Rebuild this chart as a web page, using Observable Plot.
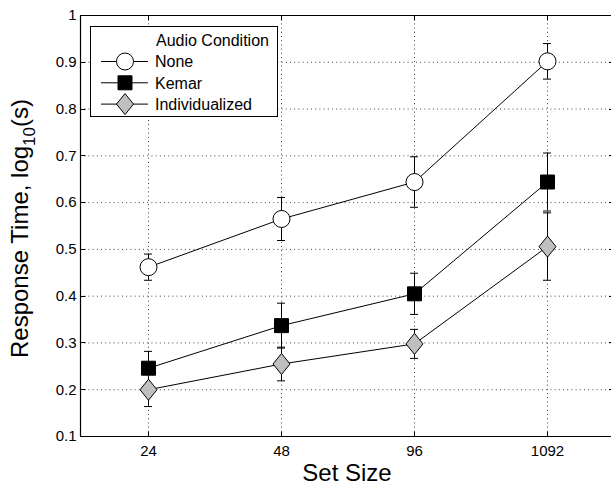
<!DOCTYPE html>
<html><head><meta charset="utf-8">
<script src="https://cdn.jsdelivr.net/npm/d3@7"></script>
<script src="https://cdn.jsdelivr.net/npm/@observablehq/plot@0.6"></script>
<style>
html,body{margin:0;padding:0;background:#fff;overflow:hidden;}
#chart svg{display:block;font-family:"Liberation Sans",Arial,Helvetica,sans-serif;}
</style></head><body><div id="chart"></div>
<script>
// ---- data ----
const setSizes = ["24", "48", "96", "1092"];
const seriesNames = ["None", "Kemar", "Individualized"];
const noneMean = [0.462, 0.565, 0.644, 0.902];
const noneErr = [0.028, 0.046, 0.054, 0.038];
const kemarMean = [0.246, 0.337, 0.405, 0.644];
const kemarErr = [0.036, 0.048, 0.044, 0.062];
const indivMean = [0.200, 0.255, 0.298, 0.506];
const indivErr = [0.036, 0.036, 0.031, 0.072];
const yTicks = [0.1, 0.2, 0.3, 0.4, 0.5, 0.6, 0.7, 0.8, 0.9, 1];
const yTickLabels = ["0.1", "0.2", "0.3", "0.4", "0.5", "0.6", "0.7", "0.8", "0.9", "1"];
const legendTitle = "Audio Condition";
const xLabel = "Set Size";
const yLabelParts = ["Response Time, log", "10", "(s)"];

// ---- styles ----
const circleSym = {draw(ctx) { ctx.moveTo(8.5, 0); ctx.arc(0, 0, 8.5, 0, 2 * Math.PI); }};
const squareSym = {draw(ctx) { ctx.rect(-7, -7, 14, 14); }};
const diamondSym = {draw(ctx) { ctx.moveTo(0, -10.5); ctx.lineTo(8.5, 0); ctx.lineTo(0, 10.5); ctx.lineTo(-8.5, 0); ctx.closePath(); }};
const seriesStyle = {
  "None": {symbol: circleSym, fill: "white"},
  "Kemar": {symbol: squareSym, fill: "black"},
  "Individualized": {symbol: diamondSym, fill: "#bfbfbf"}
};

const seriesData = [
  {name: seriesNames[0], mean: noneMean, err: noneErr},
  {name: seriesNames[1], mean: kemarMean, err: kemarErr},
  {name: seriesNames[2], mean: indivMean, err: indivErr}
];
const rows = seriesData.map(s => s.mean.map((m, i) => ({
  series: s.name, size: setSizes[i], mean: m, lo: m - s.err[i], hi: m + s.err[i]
})));

// axes box (its right side lies just outside the picture) and inward ticks
function axesBox(index, scales, values, dims) {
  const {x, y} = scales;
  const g = d3.create("svg:g").attr("stroke", "black").attr("stroke-width", 1);
  const W = dims.width;
  const L = dims.marginLeft + 0.5, R = x.range()[1];
  const T = Math.round(y(1)) + 0.5, B = Math.round(y(0.1)) + 0.5;
  g.append("line").attr("x1", L).attr("x2", W).attr("y1", T).attr("y2", T).attr("stroke-width", 1.2);
  g.append("line").attr("x1", L).attr("x2", W).attr("y1", B).attr("y2", B).attr("stroke-width", 1.2);
  g.append("line").attr("x1", L).attr("x2", L).attr("y1", T).attr("y2", B).attr("stroke-width", 1.2);
  for (const t of yTicks) {
    const py = Math.round(y(t)) + 0.5;
    g.append("line").attr("x1", L).attr("x2", L + 5).attr("y1", py).attr("y2", py);
    if (R - 5 < W) g.append("line").attr("x1", R - 5).attr("x2", W).attr("y1", py).attr("y2", py);
  }
  for (const s of setSizes) {
    const px = Math.round(x(s)) + 0.5;
    g.append("line").attr("x1", px).attr("x2", px).attr("y1", B - 5).attr("y2", B);
    g.append("line").attr("x1", px).attr("x2", px).attr("y1", T).attr("y2", T + 5);
  }
  return g.node();
}

function axisLabels(index, scales, values, dims) {
  const {x} = scales;
  const g = d3.create("svg:g").attr("fill", "black").attr("font-size", 24).attr("text-anchor", "middle");
  const r = x.range();
  const cx = (r[0] + r[1]) / 2;
  const cy = (dims.marginTop + dims.height - dims.marginBottom) / 2 + 3;
  g.append("text").attr("x", cx).attr("y", dims.height - 4).text(xLabel);
  const t = g.append("text").attr("transform", `translate(28,${cy}) rotate(-90)`);
  t.append("tspan").text(yLabelParts[0]);
  t.append("tspan").attr("dy", 7).attr("font-size", 17).text(yLabelParts[1]);
  t.append("tspan").attr("dy", -7).text(yLabelParts[2]);
  return g.node();
}

function legend(index, scales, values, dims) {
  const L = dims.marginLeft, T = dims.marginTop;
  const g = d3.create("svg:g").attr("font-size", 16).attr("text-anchor", "start").attr("fill", "black");
  g.append("rect").attr("x", L + 10.5).attr("y", T + 11.5).attr("width", 187).attr("height", 90)
    .attr("fill", "white").attr("stroke", "black").attr("stroke-width", 1);
  g.append("text").attr("x", L + 76).attr("y", T + 31).text(legendTitle);
  seriesNames.forEach((n, i) => {
    const cy = T + 46.5 + i * 21.3;
    g.append("line").attr("x1", L + 21).attr("x2", L + 68).attr("y1", cy).attr("y2", cy)
      .attr("stroke", "black").attr("stroke-width", 1);
    g.append("path").attr("d", d3.symbol().type(seriesStyle[n].symbol)())
      .attr("transform", `translate(${L + 45},${cy})`)
      .attr("fill", seriesStyle[n].fill).attr("stroke", "black").attr("stroke-width", 1);
    g.append("text").attr("x", L + 75).attr("y", cy + 5.7).text(n);
  });
  return g.node();
}

const dotted = {stroke: "#444", strokeWidth: 1, strokeDasharray: "1,3.2"};
const marks = [
  Plot.ruleY(yTicks, {y: d => d, ...dotted}),
  Plot.ruleX(setSizes, {x: d => d, ...dotted}),
  axesBox
];
rows.forEach(data => {
  const st = seriesStyle[data[0].series];
  marks.push(
    Plot.line(data, {x: "size", y: "mean", stroke: "black", strokeWidth: 1}),
    Plot.ruleX(data, {x: "size", y1: "lo", y2: "hi", stroke: "black", strokeWidth: 1}),
    Plot.ruleY(data, {y: "lo", x1: "size", x2: "size", insetLeft: -4, insetRight: -4, stroke: "black", strokeWidth: 1}),
    Plot.ruleY(data, {y: "hi", x1: "size", x2: "size", insetLeft: -4, insetRight: -4, stroke: "black", strokeWidth: 1}),
    Plot.dot(data, {x: "size", y: "mean", symbol: st.symbol, r: 8.5, fill: st.fill, stroke: "black", strokeWidth: 1})
  );
});
marks.push(legend, axisLabels);

const chart = Plot.plot({
  width: 611,
  height: 485,
  marginLeft: 80,
  marginRight: 0,
  marginTop: 15,
  marginBottom: 49,
  style: {fontSize: "15px", fontFamily: '"Liberation Sans", Arial, Helvetica, sans-serif', background: "white", color: "black", overflow: "hidden"},
  x: {type: "point", domain: setSizes, padding: 0.5, range: [80, 614], tickSize: 0, tickPadding: 9, label: null},
  y: {domain: [0.1, 1], ticks: yTicks, tickFormat: d => yTickLabels[yTicks.findIndex(t => Math.abs(t - d) < 1e-9)], tickSize: 0, tickPadding: 4, label: null},
  marks
});
document.getElementById("chart").appendChild(chart);
</script>
</body></html>
